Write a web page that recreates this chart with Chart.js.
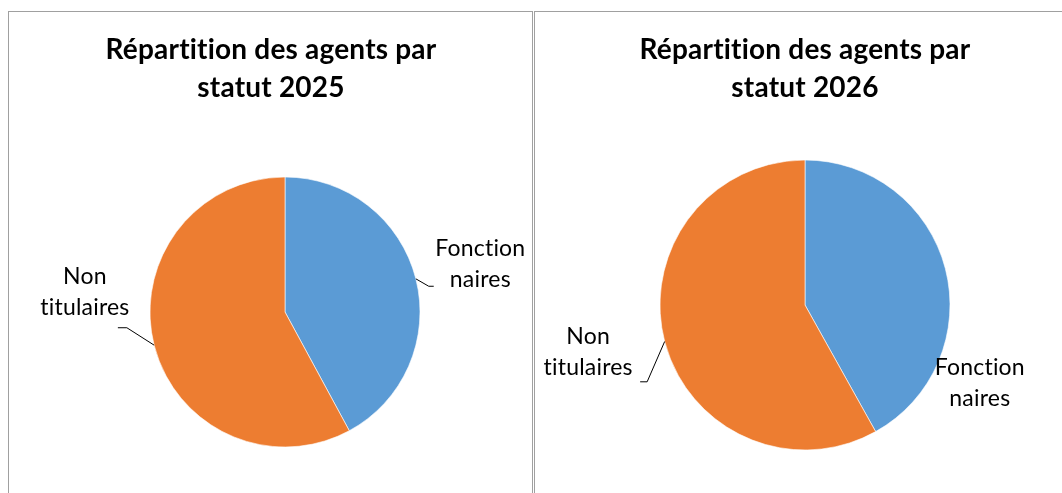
<!DOCTYPE html>
<html lang="fr">
<head>
<meta charset="utf-8">
<title>Répartition des agents par statut</title>
<script src="https://cdn.jsdelivr.net/npm/chart.js@4/dist/chart.umd.min.js"></script>
<style>
    html, body { margin: 0; padding: 0; background: #fff; overflow: hidden; }
    body { width: 1062px; height: 493px; position: relative; }
    .panel { position: absolute; top: 11px; height: 520px; border: 1px solid #a0a0a0; box-sizing: border-box; }
    #panel2025 { left: 8px; width: 525px; }
    #panel2026 { left: 534px; width: 600px; }
    canvas { position: absolute; top: 0; }
    #chart2025 { left: 0; }
    #chart2026 { left: 536px; }
</style>
</head>
<body>
<div class="panel" id="panel2025"></div>
<div class="panel" id="panel2026"></div>
<canvas id="chart2025" width="532" height="493"></canvas>
<canvas id="chart2026" width="526" height="493"></canvas>
<script>
// Data
const categories = ['Fonctionnaires', 'Non titulaires'];
const categoryLines = [['Fonction', 'naires'], ['Non', 'titulaires']];
const values2025 = [42.1, 57.9];
const values2026 = [41.9, 58.1];
const colors = ['#5B9BD5', '#ED7D31'];
// End data

const FONT = 'Lato, "Open Sans", sans-serif';

// titles and slice labels, drawn around the arcs
const pieText = {
    id: 'pieText',
    afterDraw(chart, args, opts) {
        const ctx = chart.ctx;
        const arcs = chart.getDatasetMeta(0).data;
        ctx.save();
        ctx.fillStyle = '#000';
        ctx.textAlign = 'center';
        ctx.textBaseline = 'middle';
        // a tiny spacing keeps Lato from using its "ti" ligature
        ctx.letterSpacing = '0.2px';

        ctx.font = `bold ${opts.titleSize}px ${FONT}`;
        opts.title.forEach((line, i) => {
            ctx.fillText(line, opts.titleX, opts.titleY + i * opts.titleLine);
        });

        ctx.font = `${opts.labelSize}px ${FONT}`;
        ctx.strokeStyle = '#000';
        ctx.lineWidth = 1;
        arcs.forEach((arc, i) => {
            const p = opts.labels[i];
            const mid = (arc.startAngle + arc.endAngle) / 2;
            const r = arc.outerRadius;
            const a = mid + p.shift * Math.PI / 180;
            const lx = arc.x + Math.cos(a) * r * p.dist;
            const ly = arc.y + Math.sin(a) * r * p.dist;
            const lines = categoryLines[i];
            const top = ly - (lines.length - 1) * opts.labelLine / 2;
            lines.forEach((line, j) => ctx.fillText(line, lx, top + j * opts.labelLine));

            if (p.leader) {
                const sx = lx + p.leader.dx;
                const sy = ly + p.leader.dy;
                ctx.beginPath();
                ctx.moveTo(sx, sy);
                ctx.lineTo(sx + p.leader.len, sy);
                ctx.lineTo(arc.x + Math.cos(mid) * r, arc.y + Math.sin(mid) * r);
                ctx.stroke();
            }
        });
        ctx.restore();
    }
};

function buildPie(id, values, radius, padding, text) {
    const ctx = document.getElementById(id).getContext('2d');
    return new Chart(ctx, {
        type: 'pie',
        data: {
            labels: categories,
            datasets: [{
                data: values,
                backgroundColor: colors,
                borderColor: '#fff',
                borderWidth: 0.6,
                hoverOffset: 0,
                radius: radius
            }]
        },
        options: {
            responsive: false,
            devicePixelRatio: 1,
            animation: false,
            events: [],
            layout: { padding: padding },
            plugins: {
                legend: { display: false },
                tooltip: { enabled: false },
                pieText: text
            }
        },
        plugins: [pieText]
    });
}

buildPie('chart2025', values2025, 135,
    { top: 177, bottom: 46, left: 100, right: 62 },
    {
        title: ['Répartition des agents par', 'statut 2025'],
        titleX: 271, titleY: 50, titleLine: 38, titleSize: 28,
        labelSize: 23, labelLine: 31,
        labels: [
            { shift: 0.4, dist: 1.49, leader: { dx: -46.6, dy: 22.3, len: -5 } },
            { shift: 20, dist: 1.49, leader: { dx: 33, dy: 36, len: 9 } }
        ]
    });

buildPie('chart2026', values2026, 145,
    { top: 160, bottom: 43, left: 100, right: 88 },
    {
        title: ['Répartition des agents par', 'statut 2026'],
        titleX: 269, titleY: 50, titleLine: 38, titleSize: 28,
        labelSize: 23, labelLine: 31,
        labels: [
            { shift: 38.6, dist: 1.32, leader: null },
            { shift: 2.4, dist: 1.53, leader: { dx: 52, dy: 30, len: 7 } }
        ]
    });
</script>
</body>
</html>
